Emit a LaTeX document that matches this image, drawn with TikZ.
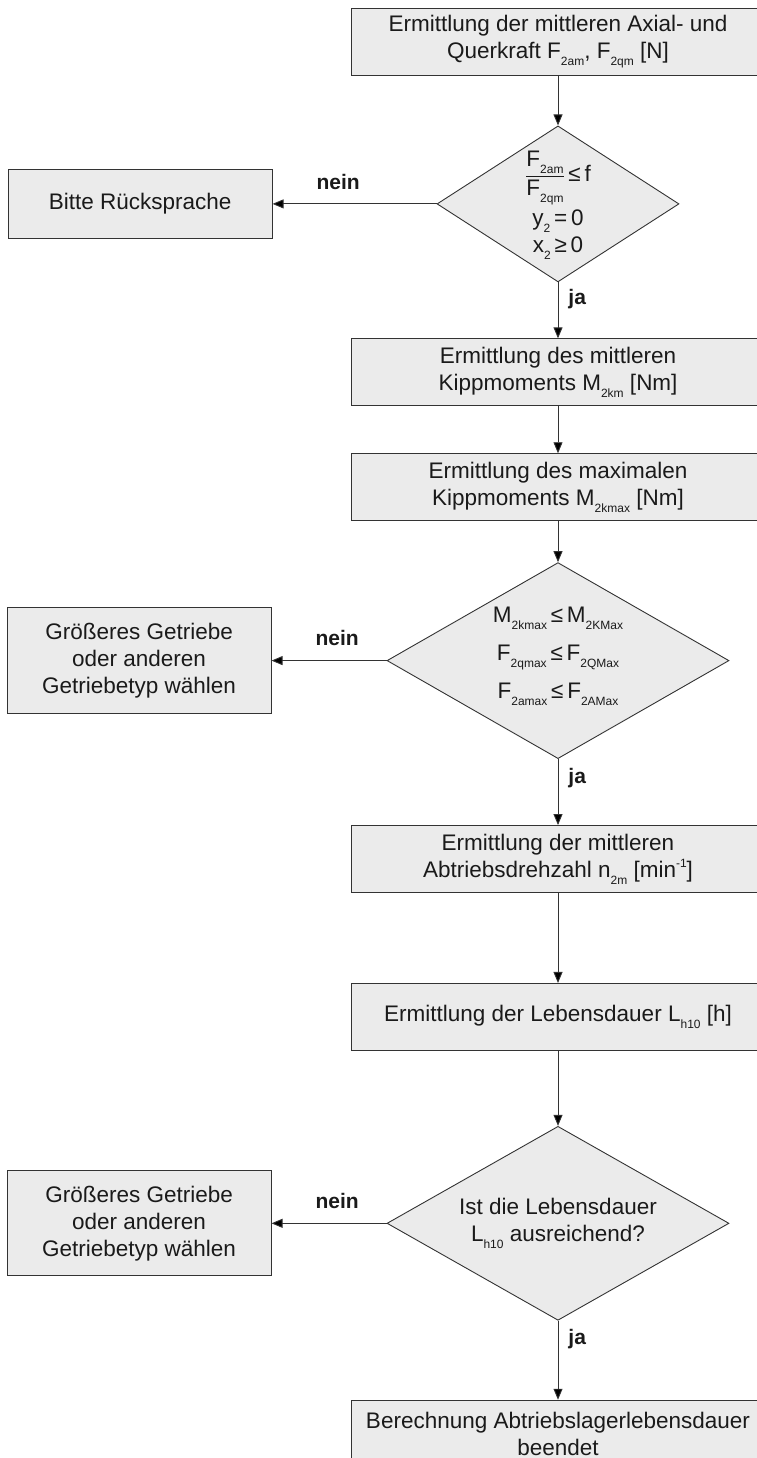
\documentclass[tikz,border=0pt]{standalone}
\usepackage{fontspec}
\setmainfont{Liberation Sans}
\usepackage{amsmath}
\usetikzlibrary{arrows.meta, positioning, shapes.geometric}
\definecolor{boxfill}{HTML}{EBEBEB}
\definecolor{boxline}{HTML}{333333}
\definecolor{inktext}{HTML}{1A1A1A}
\newcommand{\idx}[1]{\raisebox{-0.32em}{\fontsize{12}{12}\selectfont #1}}
\newcommand{\expo}[1]{\raisebox{0.42em}{\fontsize{12}{12}\selectfont #1}}
\tikzset{
  pbox/.style={rectangle, draw=boxline, fill=boxfill, line width=0.9pt,
               minimum width=414pt, minimum height=67pt, align=center,
               inner sep=0pt, text=inktext, font=\fontsize{22.5}{27}\selectfont},
  sidebox/.style={pbox, minimum width=264pt},
  decide/.style={diamond, draw=boxline, fill=boxfill, line width=0.9pt, inner sep=0pt},
  dtext/.style={align=center, inner sep=0pt, text=inktext, font=\fontsize{22.5}{27}\selectfont},
  arr/.style={-{Triangle[length=11pt, width=9pt, fill=black]}, line width=0.9pt, draw=boxline},
  lbl/.style={inner sep=1pt, text=inktext, font=\fontsize{21}{21}\selectfont\bfseries},
}

\begin{document}
\begin{tikzpicture}[x=1pt, y=-1pt]
  \useasboundingbox (0,0) rectangle (756,1458);

  % main column
  \node[pbox] (fq) at (558,41.5) {Ermittlung der mittleren Axial- und\\Querkraft F\idx{2am}, F\idx{2qm} [N]};
  \node[decide, minimum width=242pt, minimum height=156pt, below=50pt of fq] (ratio) {};
  \node[dtext] (ratiotxt) at ([yshift=-1pt]ratio.center) {$\dfrac{\mbox{F\idx{2am}}}{\mbox{F\idx{2qm}}}$\,≤\,f\\[3pt]y\idx{2}\,=\,0\\x\idx{2}\,≥\,0};
  \node[pbox, below=56pt of ratio] (km) {Ermittlung des mittleren\\Kippmoments M\idx{2km} [Nm]};
  \node[pbox, below=47pt of km] (kmax) {Ermittlung des maximalen\\Kippmoments M\idx{2kmax} [Nm]};
  \node[decide, minimum width=342pt, minimum height=196pt, below=41pt of kmax] (limits) {};
  \node[dtext] (limitstxt) at ([yshift=4pt]limits.center) {M\idx{2kmax}\,≤\,M\idx{2KMax}\\[11pt]F\idx{2qmax}\,≤\,F\idx{2QMax}\\[11pt]F\idx{2amax}\,≤\,F\idx{2AMax}};
  \node[pbox, below=66pt of limits] (speed) {Ermittlung der mittleren\\Abtriebsdrehzahl n\idx{2m} [min\expo{-1}]};
  \node[pbox, below=90pt of speed] (life) {Ermittlung der Lebensdauer L\idx{h10} [h]};
  \node[decide, minimum width=342pt, minimum height=194pt, below=75pt of life] (enough) {};
  \node[dtext] (enoughtxt) at (enough) {Ist die Lebensdauer\\L\idx{h10} ausreichend?};
  \node[pbox, below=79pt of enough] (done) {Berechnung Abtriebslagerlebensdauer\\beendet};

  % side exits
  \node[sidebox, minimum height=69pt, left=164pt of ratio] (ask) {Bitte Rücksprache};
  \node[sidebox, minimum height=106pt, left=115pt of limits] (bigger1) {Größeres Getriebe\\oder anderen\\Getriebetyp wählen};
  \node[sidebox, minimum height=105pt, left=115pt of enough] (bigger2) {Größeres Getriebe\\oder anderen\\Getriebetyp wählen};

  \draw[arr] (fq) -- (ratio);
  \draw[arr] (ratio) -- node[lbl, pos=0.3, right=9pt] {ja} (km);
  \draw[arr] (ratio) -- node[lbl, pos=0.6, above=13pt] {nein} (ask);
  \draw[arr] (km) -- (kmax);
  \draw[arr] (kmax) -- (limits);
  \draw[arr] (limits) -- node[lbl, pos=0.29, right=9pt] {ja} (speed);
  \draw[arr] (limits) -- node[lbl, pos=0.43, above=13pt] {nein} (bigger1);
  \draw[arr] (speed) -- (life);
  \draw[arr] (life) -- (enough);
  \draw[arr] (enough) -- node[lbl, pos=0.23, right=9pt] {ja} (done);
  \draw[arr] (enough) -- node[lbl, pos=0.43, above=13pt] {nein} (bigger2);
\end{tikzpicture}
\end{document}
